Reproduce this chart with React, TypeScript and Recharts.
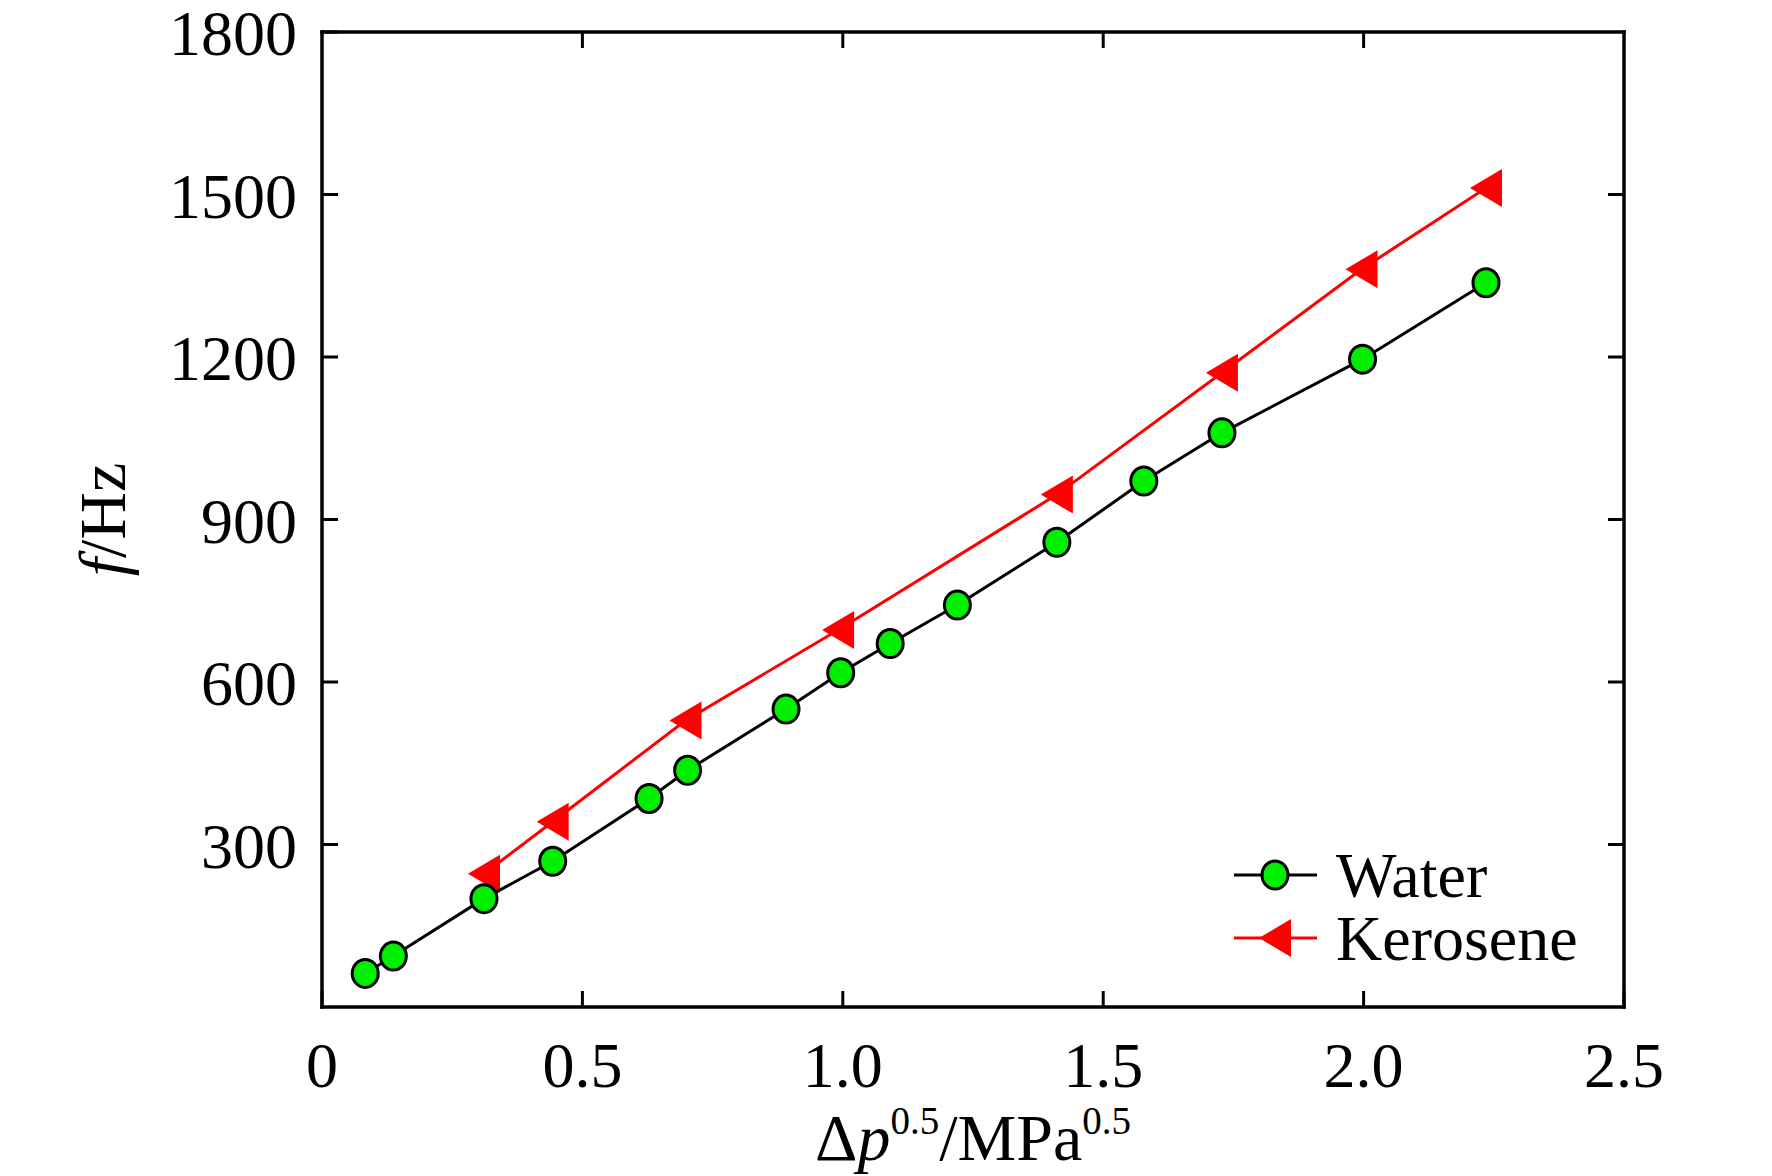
import React from 'react';
import { ScatterChart, Scatter, XAxis, YAxis, Legend, Label } from 'recharts';

const xTicks = [0, 0.5, 1, 1.5, 2, 2.5];
const xTickLabels = ['0', '0.5', '1.0', '1.5', '2.0', '2.5'];
const yTicks = [300, 600, 900, 1200, 1500, 1800];
const yTickLabels = ['300', '600', '900', '1200', '1500', '1800'];
const topTicks = [0.5, 1, 1.5, 2];
const rightTicks = [300, 600, 900, 1200, 1500];

const waterX = [0.083, 0.137, 0.311, 0.443, 0.628, 0.702, 0.891, 0.996, 1.091, 1.22, 1.411, 1.578, 1.728, 1.998, 2.235];
const waterY = [62, 94, 200, 269, 385, 437, 550, 617, 671, 742, 858, 971, 1060, 1196, 1337];
const keroX = [0.311, 0.443, 0.698, 0.991, 1.411, 1.728, 1.996, 2.235];
const keroY = [246, 342, 529, 696, 946, 1171, 1362, 1512];

const seriesNames = ['Water', 'Kerosene'];

const waterData = waterX.map((x, i) => ({ x, y: waterY[i] }));
const keroData = keroX.map((x, i) => ({ x, y: keroY[i] }));

const FONT = '"Liberation Serif", "Times New Roman", Times, serif';
const FS = 64;
const GREEN = '#00ee00';
const RED = '#ff0000';

const labelFor = (value: number, ticks: number[], labels: string[]) => {
  const i = ticks.findIndex((t) => Math.abs(t - value) < 1e-9);
  return i >= 0 ? labels[i] : String(value);
};

const BottomTick = (props: any) => {
  const { x, y, payload } = props;
  return (
    <g>
      <line x1={x} x2={x} y1={y} y2={y - 16} stroke="#000" strokeWidth={3} />
      <text x={x} y={y + 80} textAnchor="middle" fontFamily={FONT} fontSize={FS} fill="#000">
        {labelFor(payload.value, xTicks, xTickLabels)}
      </text>
    </g>
  );
};

const TopTick = (props: any) => {
  const { x, y } = props;
  return <line x1={x} x2={x} y1={y} y2={y + 16} stroke="#000" strokeWidth={3} />;
};

const LeftTick = (props: any) => {
  const { x, y, payload } = props;
  return (
    <g>
      <line x1={x} x2={x + 16} y1={y} y2={y} stroke="#000" strokeWidth={3} />
      <text x={x - 25} y={y + 23} textAnchor="end" fontFamily={FONT} fontSize={FS} fill="#000">
        {labelFor(payload.value, yTicks, yTickLabels)}
      </text>
    </g>
  );
};

const RightTick = (props: any) => {
  const { x, y } = props;
  return <line x1={x} x2={x - 16} y1={y} y2={y} stroke="#000" strokeWidth={3} />;
};

const Circle = (props: any) => {
  const { cx, cy } = props;
  if (cx == null || cy == null) return null;
  return <ellipse cx={cx} cy={cy} rx={13} ry={14} fill={GREEN} stroke="#000" strokeWidth={3} />;
};

const Tri = (props: any) => {
  const { cx, cy } = props;
  if (cx == null || cy == null) return null;
  return <polygon points={`${cx - 16},${cy} ${cx + 16},${cy - 19} ${cx + 16},${cy + 19}`} fill={RED} />;
};

const XTitle = (props: any) => {
  const { viewBox } = props;
  const cx = viewBox.x + viewBox.width / 2;
  const y = viewBox.y + 153;
  return (
    <text x={cx} y={y} textAnchor="middle" fontFamily={FONT} fontSize={66} fill="#000">
      <tspan>Δ</tspan>
      <tspan fontStyle="italic">p</tspan>
      <tspan fontSize={39} dy={-26}>0.5</tspan>
      <tspan dy={26}>/MPa</tspan>
      <tspan fontSize={39} dy={-26}>0.5</tspan>
    </text>
  );
};

const YTitle = (props: any) => {
  const { viewBox } = props;
  const cy = viewBox.y + viewBox.height / 2;
  const x = 117;
  return (
    <text
      x={x}
      y={cy}
      textAnchor="middle"
      fontFamily={FONT}
      fontSize={66}
      fill="#000"
      transform={`rotate(-90, ${x}, ${cy})`}
    >
      <tspan fontStyle="italic">f</tspan>
      <tspan>/Hz</tspan>
    </text>
  );
};

const LegendContent = () => (
  <svg width={420} height={140} style={{ overflow: 'visible' }}>
    <g>
      <line x1={6} x2={89} y1={37} y2={37} stroke="#000" strokeWidth={3} />
      <Circle cx={47} cy={37} />
      <text x={108} y={37 + 22} fontFamily={FONT} fontSize={FS} fill="#000">{seriesNames[0]}</text>
    </g>
    <g>
      <line x1={6} x2={89} y1={100} y2={100} stroke={RED} strokeWidth={3} />
      <Tri cx={47} cy={100} />
      <text x={108} y={100 + 22} fontFamily={FONT} fontSize={FS} fill="#000">{seriesNames[1]}</text>
    </g>
  </svg>
);

const axisLineStyle = { stroke: '#000', strokeWidth: 3.5, strokeLinecap: 'square' as const };

export default function App() {
  return (
    <div style={{ width: 1764, height: 1168, background: '#fff' }}>
      <ScatterChart width={1764} height={1168} margin={{ top: 23, right: 147, bottom: 0, left: 0 }}>
        <XAxis
          xAxisId={0}
          type="number"
          dataKey="x"
          domain={[0, 2.5]}
          ticks={xTicks}
          interval={0}
          allowDataOverflow
          orientation="bottom"
          height={169}
          tickSize={0}
          tickMargin={0}
          tickLine={false}
          axisLine={axisLineStyle}
          tick={(p: any) => <BottomTick {...p} />}
        >
          <Label content={(p: any) => <XTitle {...p} />} />
        </XAxis>
        <XAxis
          xAxisId="top"
          type="number"
          dataKey="x"
          domain={[0, 2.5]}
          ticks={topTicks}
          interval={0}
          allowDataOverflow
          orientation="top"
          height={1}
          tickSize={0}
          tickMargin={0}
          tickLine={false}
          axisLine={axisLineStyle}
          tick={(p: any) => <TopTick {...p} />}
        />
        <YAxis
          yAxisId={0}
          type="number"
          dataKey="y"
          domain={[0, 1800]}
          ticks={yTicks}
          interval={0}
          allowDataOverflow
          orientation="left"
          width={314}
          tickSize={0}
          tickMargin={0}
          tickLine={false}
          axisLine={axisLineStyle}
          tick={(p: any) => <LeftTick {...p} />}
        >
          <Label content={(p: any) => <YTitle {...p} />} />
        </YAxis>
        <YAxis
          yAxisId="right"
          type="number"
          dataKey="y"
          domain={[0, 1800]}
          ticks={rightTicks}
          interval={0}
          allowDataOverflow
          orientation="right"
          width={1}
          tickSize={0}
          tickMargin={0}
          tickLine={false}
          axisLine={axisLineStyle}
          tick={(p: any) => <RightTick {...p} />}
        />
        <Scatter
          name={seriesNames[1]}
          data={keroData}
          xAxisId={0}
          yAxisId={0}
          line={{ stroke: RED, strokeWidth: 3 }}
          lineType="joint"
          shape={(p: any) => <Tri {...p} />}
          isAnimationActive={false}
        />
        <Scatter
          name={seriesNames[0]}
          data={waterData}
          xAxisId={0}
          yAxisId={0}
          line={{ stroke: '#000', strokeWidth: 3 }}
          lineType="joint"
          shape={(p: any) => <Circle {...p} />}
          isAnimationActive={false}
        />
        <Legend
          layout="vertical"
          align="center"
          verticalAlign="middle"
          content={() => <LegendContent />}
          wrapperStyle={{ position: 'absolute', left: 1220, top: 830, width: 420, height: 140 }}
        />
      </ScatterChart>
    </div>
  );
}
